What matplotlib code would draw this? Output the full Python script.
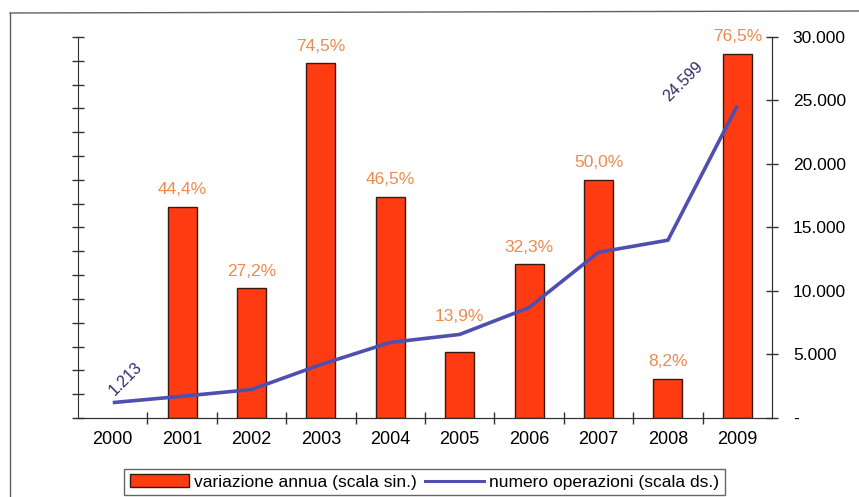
import matplotlib
matplotlib.use("Agg")
import matplotlib.pyplot as plt
from matplotlib.lines import Line2D
from matplotlib.patches import Patch
import matplotlib.ticker as mticker

plt.rcParams['font.family'] = ['Liberation Sans', 'DejaVu Sans']

years = ['2000', '2001', '2002', '2003', '2004', '2005', '2006', '2007', '2008', '2009']
variazione = [None, 44.4, 27.2, 74.5, 46.5, 13.9, 32.3, 50.0, 8.2, 76.5]
var_labels = ['', '44,4%', '27,2%', '74,5%', '46,5%', '13,9%', '32,3%', '50,0%', '8,2%', '76,5%']
operazioni = [1213, 1710, 2240, 4210, 5950, 6580, 8700, 13050, 14000, 24599]
right_ticks = [0, 5000, 10000, 15000, 20000, 25000, 30000]
right_labels = ['-', '5.000', '10.000', '15.000', '20.000', '25.000', '30.000']

W, H = 859, 497
fig = plt.figure(figsize=(W / 100, H / 100), dpi=100)

# outer frame
frame_col = '#606060'
fig.add_artist(Line2D([10 / W, 1.0], [1 - 13 / H, 1 - 11 / H], color=frame_col, lw=1.0))
fig.add_artist(Line2D([10 / W, 10 / W], [1 - 13 / H, 0.0], color=frame_col, lw=1.0))

ax_left = 78 / W
ax_right = 772 / W
ax_bottom = (H - 418) / H
ax_top = (H - 37) / H
ax = fig.add_axes([ax_left, ax_bottom, ax_right - ax_left, ax_top - ax_bottom])
ax2 = ax.twinx()

xs = list(range(len(years)))
bar_x = [x for x, v in zip(xs, variazione) if v is not None]
bar_v = [v for v in variazione if v is not None]
ax.bar(bar_x, bar_v, width=0.42, color='#FF3B12', edgecolor='#3A1A10', linewidth=1.0, zorder=2)

label_col = '#EE8A4E'
for x, v, lab in zip(xs, variazione, var_labels):
    if v is None:
        continue
    off = 2.0
    if years[x] == '2005':
        off = 5.8
    ax.text(x, v + off, lab, ha='center', va='bottom', color=label_col, fontsize=12.5)

ax.set_xlim(-0.5, len(years) - 0.5)
ax.set_ylim(0, 80)
ax.yaxis.set_major_locator(mticker.MultipleLocator(5))
ax.tick_params(axis='y', which='major', direction='inout', length=9, width=1, labelleft=False, color='#303030')
ax.set_xticks(xs)
ax.set_xticklabels(years, fontsize=13)
ax.tick_params(axis='x', which='major', length=0, pad=9)
ax.set_xticks([x + 0.5 for x in xs[:-1]], minor=True)
ax.tick_params(axis='x', which='minor', direction='inout', length=8, width=1, color='#303030')

ax.spines['top'].set_visible(False)
ax2.spines['top'].set_visible(False)
for sp in ['left', 'bottom', 'right']:
    ax.spines[sp].set_color('#303030')
    ax2.spines[sp].set_color('#303030')

line_col = '#4F4FB0'
ax2.plot(xs, operazioni, color=line_col, lw=2.6, zorder=3, solid_capstyle='butt')
ax2.set_ylim(0, 30000)
ax2.set_yticks(right_ticks)
ax2.set_yticklabels(right_labels, fontsize=12.5)
ax2.tick_params(axis='y', direction='inout', length=8, width=1, pad=11, color='#303030')
ax2.spines['left'].set_visible(False)

num_col = '#2E2E6E'
ax2.text(xs[0] + 0.18, operazioni[0] + 1900, '1.213', rotation=45, ha='center', va='center',
         color=num_col, fontsize=11.5)
ax2.text(xs[-2] + 0.22, operazioni[-1] + 1900, '24.599', rotation=45, ha='center', va='center',
         color=num_col, fontsize=11.5)

ax.set_zorder(ax2.get_zorder() - 1)
ax.patch.set_visible(False)
ax2.patch.set_visible(False)

handles = [Patch(facecolor='#FF3B12', edgecolor='#3A1A10', linewidth=1.0),
           Line2D([0], [0], color=line_col, lw=2.2)]
leg = fig.legend(handles, ['variazione annua (scala sin.)', 'numero operazioni (scala ds.)'],
                 loc='center', bbox_to_anchor=((116 + 733) / 2 / W, 1 - 482 / H),
                 ncol=2, frameon=True, fancybox=False, fontsize=12.5, handlelength=3.4,
                 handleheight=0.7, handletextpad=0.3, columnspacing=0.5, borderpad=0.3)
leg.get_frame().set_edgecolor('#404040')
leg.get_frame().set_linewidth(1.0)

fig.savefig('out.png', dpi=100)
